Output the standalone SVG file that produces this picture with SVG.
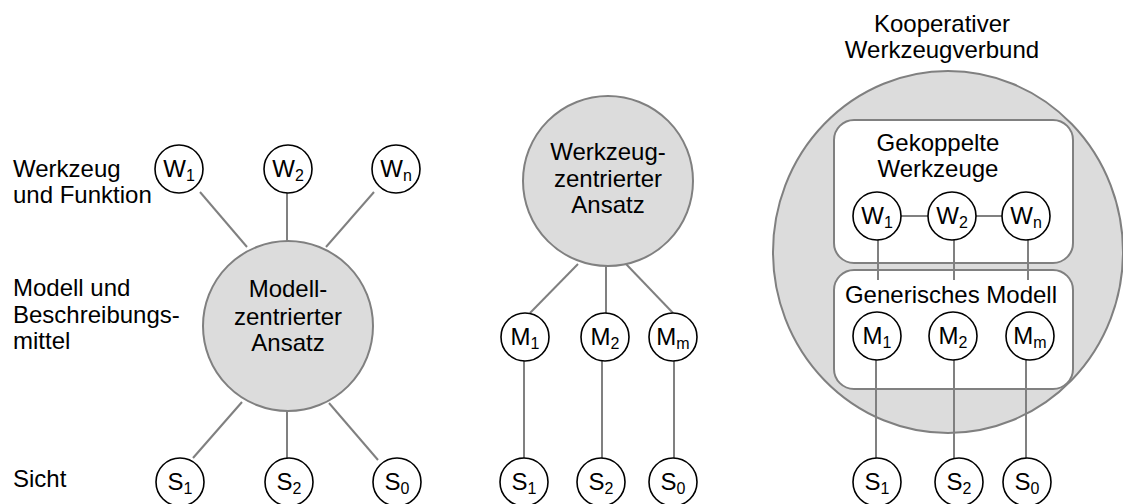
<svg xmlns="http://www.w3.org/2000/svg" width="1123" height="504" viewBox="0 0 1123 504">
  <style>
    text { font-family: "Liberation Sans", Arial, sans-serif; font-size: 24px; fill: #000; }
    .mid { text-anchor: middle; }
    .sub { font-size: 16px; }
    .node { fill: #fff; stroke: #000; stroke-width: 1.6; }
    .hub { fill: #dcdcdc; stroke: #808080; stroke-width: 2; }
    .box { fill: #fff; stroke: #808080; stroke-width: 2; }
    .link { stroke: #808080; stroke-width: 2; fill: none; }
  </style>

  <!-- row labels -->
  <g id="labels">
    <text x="13" y="177">Werkzeug</text>
    <text x="13" y="203">und Funktion</text>
    <text x="13" y="296">Modell und</text>
    <text x="13" y="323">Beschreibungs-</text>
    <text x="13" y="349">mittel</text>
    <text x="13" y="487">Sicht</text>
  </g>

  <!-- background shapes of the cooperative tool network -->
  <g id="verbund">
    <ellipse class="hub" cx="948" cy="252" rx="175" ry="181"/>
    <text class="mid" x="942" y="32">Kooperativer</text>
    <text class="mid" x="942" y="58">Werkzeugverbund</text>
  </g>
  <g id="gekoppelte-werkzeuge">
    <rect class="box" x="834" y="120" width="239" height="143" rx="20"/>
    <text class="mid" x="938" y="151">Gekoppelte</text>
    <text class="mid" x="938" y="177">Werkzeuge</text>
  </g>
  <g id="generisches-modell">
    <rect class="box" x="834" y="270" width="239" height="119" rx="20"/>
    <text class="mid" x="951" y="303">Generisches Modell</text>
  </g>

  <!-- connectors -->
  <g id="connectors">
    <!-- model-centred approach -->
    <line class="link" x1="200" y1="192" x2="247" y2="247"/>
    <line class="link" x1="287" y1="193" x2="287" y2="241"/>
    <line class="link" x1="374" y1="192" x2="326" y2="247"/>
    <line class="link" x1="242" y1="402" x2="193" y2="458"/>
    <line class="link" x1="287" y1="410" x2="287" y2="458"/>
    <line class="link" x1="329" y1="403" x2="378" y2="460"/>
    <!-- tool-centred approach -->
    <line class="link" x1="578" y1="264" x2="530" y2="313"/>
    <line class="link" x1="606" y1="266" x2="606" y2="313"/>
    <line class="link" x1="626" y1="264" x2="673" y2="313"/>
    <line class="link" x1="524" y1="361" x2="524" y2="458"/>
    <line class="link" x1="602" y1="361" x2="602" y2="458"/>
    <line class="link" x1="674" y1="361" x2="674" y2="458"/>
    <!-- cooperative tool network -->
    <line class="link" x1="901" y1="216" x2="928" y2="216"/>
    <line class="link" x1="976" y1="216" x2="1002" y2="216"/>
    <line class="link" x1="878" y1="240" x2="878" y2="280"/>
    <line class="link" x1="954" y1="240" x2="954" y2="280"/>
    <line class="link" x1="1028" y1="240" x2="1028" y2="280"/>
    <line class="link" x1="876" y1="360" x2="876" y2="459"/>
    <line class="link" x1="954" y1="360" x2="954" y2="459"/>
    <line class="link" x1="1026" y1="360" x2="1026" y2="459"/>
  </g>

  <!-- model-centred approach -->
  <g id="modellzentriert">
    <circle class="hub" cx="288" cy="326" r="85"/>
    <text class="mid" x="288" y="297">Modell-</text>
    <text class="mid" x="288" y="325">zentrierter</text>
    <text class="mid" x="288" y="351">Ansatz</text>
  </g>
  <g id="mz-w1"><circle class="node" cx="179" cy="169" r="24"/><text class="mid" x="179" y="177">W<tspan class="sub" dy="4">1</tspan></text></g>
  <g id="mz-w2"><circle class="node" cx="288" cy="169" r="24"/><text class="mid" x="288" y="177">W<tspan class="sub" dy="4">2</tspan></text></g>
  <g id="mz-wn"><circle class="node" cx="396" cy="169" r="24"/><text class="mid" x="396" y="177">W<tspan class="sub" dy="4">n</tspan></text></g>
  <g id="mz-s1"><circle class="node" cx="180" cy="482" r="24"/><text class="mid" x="180" y="490">S<tspan class="sub" dy="4">1</tspan></text></g>
  <g id="mz-s2"><circle class="node" cx="289" cy="482" r="24"/><text class="mid" x="289" y="490">S<tspan class="sub" dy="4">2</tspan></text></g>
  <g id="mz-s0"><circle class="node" cx="397" cy="482" r="24"/><text class="mid" x="397" y="490">S<tspan class="sub" dy="4">0</tspan></text></g>

  <!-- tool-centred approach -->
  <g id="werkzeugzentriert">
    <circle class="hub" cx="608" cy="181" r="85"/>
    <text class="mid" x="608" y="160">Werkzeug-</text>
    <text class="mid" x="608" y="187">zentrierter</text>
    <text class="mid" x="608" y="213">Ansatz</text>
  </g>
  <g id="wz-m1"><circle class="node" cx="525" cy="337" r="24"/><text class="mid" x="525" y="345">M<tspan class="sub" dy="4">1</tspan></text></g>
  <g id="wz-m2"><circle class="node" cx="605" cy="337" r="24"/><text class="mid" x="605" y="345">M<tspan class="sub" dy="4">2</tspan></text></g>
  <g id="wz-mm"><circle class="node" cx="673" cy="337" r="24"/><text class="mid" x="673" y="345">M<tspan class="sub" dy="4">m</tspan></text></g>
  <g id="wz-s1"><circle class="node" cx="524" cy="482" r="24"/><text class="mid" x="524" y="490">S<tspan class="sub" dy="4">1</tspan></text></g>
  <g id="wz-s2"><circle class="node" cx="601" cy="482" r="24"/><text class="mid" x="601" y="490">S<tspan class="sub" dy="4">2</tspan></text></g>
  <g id="wz-s0"><circle class="node" cx="673" cy="482" r="24"/><text class="mid" x="673" y="490">S<tspan class="sub" dy="4">0</tspan></text></g>

  <!-- cooperative tool network nodes -->
  <g id="kv-w1"><circle class="node" cx="877" cy="216" r="24"/><text class="mid" x="877" y="224">W<tspan class="sub" dy="4">1</tspan></text></g>
  <g id="kv-w2"><circle class="node" cx="952" cy="216" r="24"/><text class="mid" x="952" y="224">W<tspan class="sub" dy="4">2</tspan></text></g>
  <g id="kv-wn"><circle class="node" cx="1026" cy="216" r="24"/><text class="mid" x="1026" y="224">W<tspan class="sub" dy="4">n</tspan></text></g>
  <g id="kv-m1"><circle class="node" cx="877" cy="336" r="24"/><text class="mid" x="877" y="344">M<tspan class="sub" dy="4">1</tspan></text></g>
  <g id="kv-m2"><circle class="node" cx="953" cy="336" r="24"/><text class="mid" x="953" y="344">M<tspan class="sub" dy="4">2</tspan></text></g>
  <g id="kv-mm"><circle class="node" cx="1030" cy="336" r="24"/><text class="mid" x="1030" y="344">M<tspan class="sub" dy="4">m</tspan></text></g>
  <g id="kv-s1"><circle class="node" cx="877" cy="482" r="24"/><text class="mid" x="877" y="490">S<tspan class="sub" dy="4">1</tspan></text></g>
  <g id="kv-s2"><circle class="node" cx="959" cy="482" r="24"/><text class="mid" x="959" y="490">S<tspan class="sub" dy="4">2</tspan></text></g>
  <g id="kv-s0"><circle class="node" cx="1027" cy="482" r="24"/><text class="mid" x="1027" y="490">S<tspan class="sub" dy="4">0</tspan></text></g>
</svg>
